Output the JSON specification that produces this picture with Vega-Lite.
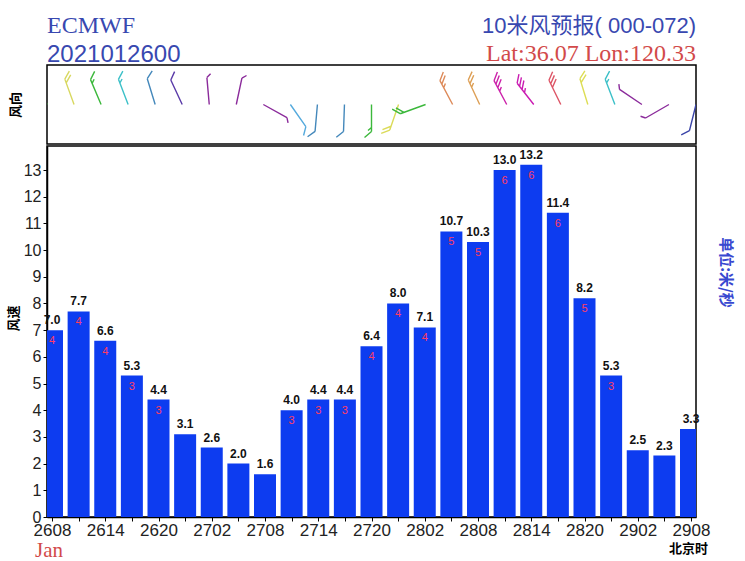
{
  "$schema": "https://vega.github.io/schema/vega-lite/v6.json",
  "padding": {"left": 6, "top": 13, "right": 5, "bottom": 0},
  "background": "white",
  "title": {
    "text": "10米风预报( 000-072)",
    "subtitle": "Lat:36.07 Lon:120.33",
    "anchor": "end",
    "frame": "group",
    "offset": -54,
    "font": "Liberation Sans, Noto Sans CJK SC",
    "fontSize": 22,
    "fontWeight": "normal",
    "color": "#3848b0",
    "subtitleFont": "Liberation Serif",
    "subtitleFontSize": 24,
    "subtitleColor": "#d24a4a",
    "subtitlePadding": 4
  },
  "datasets": {
    "wind": [
      {"t": "2021-01-26T08:00:00", "speed": 7.0, "level": 4, "dir": 340},
      {"t": "2021-01-26T11:00:00", "speed": 7.7, "level": 4, "dir": 340},
      {"t": "2021-01-26T14:00:00", "speed": 6.6, "level": 4, "dir": 337},
      {"t": "2021-01-26T17:00:00", "speed": 5.3, "level": 3, "dir": 339},
      {"t": "2021-01-26T20:00:00", "speed": 4.4, "level": 3, "dir": 343},
      {"t": "2021-01-26T23:00:00", "speed": 3.1, "level": 2, "dir": 335},
      {"t": "2021-01-27T02:00:00", "speed": 2.6, "level": 2, "dir": 355},
      {"t": "2021-01-27T05:00:00", "speed": 2.0, "level": 2, "dir": 12},
      {"t": "2021-01-27T08:00:00", "speed": 1.6, "level": 2, "dir": 119},
      {"t": "2021-01-27T11:00:00", "speed": 4.0, "level": 3, "dir": 145},
      {"t": "2021-01-27T14:00:00", "speed": 4.4, "level": 3, "dir": 185},
      {"t": "2021-01-27T17:00:00", "speed": 4.4, "level": 3, "dir": 182},
      {"t": "2021-01-27T20:00:00", "speed": 6.4, "level": 4, "dir": 180},
      {"t": "2021-01-27T23:00:00", "speed": 8.0, "level": 4, "dir": 199},
      {"t": "2021-01-28T02:00:00", "speed": 7.1, "level": 4, "dir": 250},
      {"t": "2021-01-28T05:00:00", "speed": 10.7, "level": 5, "dir": 332},
      {"t": "2021-01-28T08:00:00", "speed": 10.3, "level": 5, "dir": 335},
      {"t": "2021-01-28T11:00:00", "speed": 13.0, "level": 6, "dir": 332},
      {"t": "2021-01-28T14:00:00", "speed": 13.2, "level": 6, "dir": 322},
      {"t": "2021-01-28T17:00:00", "speed": 11.4, "level": 6, "dir": 334},
      {"t": "2021-01-28T20:00:00", "speed": 8.2, "level": 5, "dir": 343},
      {"t": "2021-01-28T23:00:00", "speed": 5.3, "level": 3, "dir": 339},
      {"t": "2021-01-29T02:00:00", "speed": 2.5, "level": 2, "dir": 304},
      {"t": "2021-01-29T05:00:00", "speed": 2.3, "level": 2, "dir": 240},
      {"t": "2021-01-29T08:00:00", "speed": 3.3, "level": 2, "dir": 194}
    ]
  },
  "spacing": 0,
  "vconcat": [
    {
      "width": 649,
      "height": 79,
      "title": {
        "text": "ECMWF",
        "subtitle": "2021012600",
        "anchor": "start",
        "frame": "group",
        "offset": -2,
        "font": "Liberation Serif",
        "fontSize": 24,
        "fontWeight": "normal",
        "color": "#3848b0",
        "subtitleFont": "Liberation Sans",
        "subtitleFontSize": 24,
        "subtitleColor": "#3848b0",
        "subtitlePadding": 5
      },
      "data": {"name": "wind"},
      "encoding": {
        "x": {
          "field": "t",
          "type": "temporal",
          "scale": {"domain": [
            {"year": 2021, "month": 1, "date": 26, "hours": 8},
            {"year": 2021, "month": 1, "date": 29, "hours": 8}
          ]},
          "axis": null
        },
        "y": {
          "datum": 0,
          "type": "quantitative",
          "scale": {"domain": [-1, 1]},
          "axis": {"title": "风向", "labels": false, "ticks": false, "domain": false, "grid": false, "titleFontSize": 13, "titlePadding": 25}
        },
        "color": {
          "field": "speed",
          "type": "quantitative",
          "legend": null,
          "scale": {
            "interpolate": "rgb",
            "domain": [1.6, 2.6, 3.1, 3.3, 4.0, 4.4, 5.3, 6.4, 7.1, 7.7, 8.2, 10.5, 11.4, 13.0],
            "range": ["#8b2b9b", "#8b2b9b", "#5a3aa8", "#3a44a8", "#55aadd", "#4488bb", "#3cc0c8", "#3cb83c", "#3cb83c", "#d8d860", "#dddd55", "#dd9955", "#dd5566", "#cc22aa"]
          }
        },
        "angle": {"field": "dir", "type": "quantitative", "scale": null}
      },
      "layer": [
        {"transform": [{"filter": "datum.speed < 3"}],
         "mark": {"type": "point", "shape": "M0,0L0,-27M0,-27l4,-3.5", "size": 4, "filled": false, "strokeWidth": 1.4, "opacity": 1, "clip": true}},
        {"transform": [{"filter": "datum.speed >= 3 && datum.speed < 5"}],
         "mark": {"type": "point", "shape": "M0,0L0,-27M0,-27l7,-6", "size": 4, "filled": false, "strokeWidth": 1.4, "opacity": 1, "clip": true}},
        {"transform": [{"filter": "datum.speed >= 5 && datum.speed < 7"}],
         "mark": {"type": "point", "shape": "M0,0L0,-27M0,-27l7,-6M0,-23l3.5,-3", "size": 4, "filled": false, "strokeWidth": 1.4, "opacity": 1, "clip": true}},
        {"transform": [{"filter": "datum.speed >= 7 && datum.speed < 9"}],
         "mark": {"type": "point", "shape": "M0,0L0,-27M0,-27l7,-6M0,-23l7,-6", "size": 4, "filled": false, "strokeWidth": 1.4, "opacity": 1, "clip": true}},
        {"transform": [{"filter": "datum.speed >= 9 && datum.speed < 11"}],
         "mark": {"type": "point", "shape": "M0,0L0,-27M0,-27l7,-6M0,-23l7,-6M0,-19l3.5,-3", "size": 4, "filled": false, "strokeWidth": 1.4, "opacity": 1, "clip": true}},
        {"transform": [{"filter": "datum.speed >= 11 && datum.speed < 13"}],
         "mark": {"type": "point", "shape": "M0,0L0,-27M0,-27l7,-6M0,-23l7,-6M0,-19l7,-6", "size": 4, "filled": false, "strokeWidth": 1.4, "opacity": 1, "clip": true}},
        {"transform": [{"filter": "datum.speed >= 13"}],
         "mark": {"type": "point", "shape": "M0,0L0,-27M0,-27l7,-6M0,-23l7,-6M0,-19l7,-6M0,-15l3.5,-3", "size": 4, "filled": false, "strokeWidth": 1.4, "opacity": 1, "clip": true}}
      ]
    },
    {
      "width": 649,
      "height": 371,
      "title": {
        "text": "Jan",
        "orient": "bottom",
        "anchor": "start",
        "frame": "group",
        "offset": -15,
        "dx": -12,
        "font": "Liberation Serif",
        "fontSize": 21,
        "fontWeight": "normal",
        "color": "#d24a4a"
      },
      "data": {"name": "wind"},
      "encoding": {
        "x": {
          "field": "t",
          "type": "temporal",
          "scale": {"domain": [
            {"year": 2021, "month": 1, "date": 26, "hours": 8},
            {"year": 2021, "month": 1, "date": 29, "hours": 8}
          ]},
          "axis": {
            "values": [
              {"year": 2021, "month": 1, "date": 26, "hours": 8},
              {"year": 2021, "month": 1, "date": 26, "hours": 11},
              {"year": 2021, "month": 1, "date": 26, "hours": 14},
              {"year": 2021, "month": 1, "date": 26, "hours": 17},
              {"year": 2021, "month": 1, "date": 26, "hours": 20},
              {"year": 2021, "month": 1, "date": 26, "hours": 23},
              {"year": 2021, "month": 1, "date": 27, "hours": 2},
              {"year": 2021, "month": 1, "date": 27, "hours": 5},
              {"year": 2021, "month": 1, "date": 27, "hours": 8},
              {"year": 2021, "month": 1, "date": 27, "hours": 11},
              {"year": 2021, "month": 1, "date": 27, "hours": 14},
              {"year": 2021, "month": 1, "date": 27, "hours": 17},
              {"year": 2021, "month": 1, "date": 27, "hours": 20},
              {"year": 2021, "month": 1, "date": 27, "hours": 23},
              {"year": 2021, "month": 1, "date": 28, "hours": 2},
              {"year": 2021, "month": 1, "date": 28, "hours": 5},
              {"year": 2021, "month": 1, "date": 28, "hours": 8},
              {"year": 2021, "month": 1, "date": 28, "hours": 11},
              {"year": 2021, "month": 1, "date": 28, "hours": 14},
              {"year": 2021, "month": 1, "date": 28, "hours": 17},
              {"year": 2021, "month": 1, "date": 28, "hours": 20},
              {"year": 2021, "month": 1, "date": 28, "hours": 23},
              {"year": 2021, "month": 1, "date": 29, "hours": 2},
              {"year": 2021, "month": 1, "date": 29, "hours": 5},
              {"year": 2021, "month": 1, "date": 29, "hours": 8}
            ],
            "labelExpr": "hours(datum.value) % 6 == 2 ? timeFormat(datum.value, '%d%H') : ''",
            "labelFlush": false,
            "labelOverlap": false,
            "labelFontSize": 17,
            "labelPadding": 1,
            "tickSize": 4,
            "domainWidth": 1.5,
            "title": "北京时",
            "titleX": 641,
            "titleAlign": "center",
            "titleFontSize": 13,
            "titlePadding": 4
          }
        }
      },
      "resolve": {"axis": {"y": "independent"}},
      "layer": [
        {
          "mark": {"type": "bar", "width": 22, "color": "#0d3cf0", "clip": true},
          "encoding": {
            "y": {
              "field": "speed",
              "type": "quantitative",
              "scale": {"domain": [0, 13.9], "nice": false},
              "axis": {
                "values": [0, 1, 2, 3, 4, 5, 6, 7, 8, 9, 10, 11, 12, 13],
                "title": "风速",
                "titleFontSize": 13,
                "titlePadding": 3,
                "titleY": 172,
                "labelFontSize": 16,
                "labelPadding": 2,
                "tickSize": 4,
                "domainWidth": 1.5
              }
            }
          }
        },
        {
          "mark": {"type": "text", "baseline": "bottom", "dy": -3, "fontSize": 12, "fontWeight": "bold", "font": "Liberation Sans", "color": "#111"},
          "encoding": {
            "y": {
              "field": "speed",
              "type": "quantitative",
              "scale": {"domain": [0, 13.9], "nice": false},
              "axis": {
                "orient": "right",
                "title": "单位:米/秒",
                "titleAngle": 90,
                "titleY": 126,
                "titleColor": "#3848d0",
                "titleFontSize": 15,
                "titlePadding": 21,
                "labels": false,
                "ticks": false,
                "domain": false,
                "grid": false
              }
            },
            "text": {"field": "speed", "type": "quantitative", "format": ".1f"}
          }
        },
        {
          "transform": [{"filter": "datum.level >= 3"}],
          "mark": {"type": "text", "baseline": "middle", "dy": 11, "fontSize": 11, "font": "Liberation Sans", "color": "#ff3c64"},
          "encoding": {
            "y": {"field": "speed", "type": "quantitative", "scale": {"domain": [0, 13.9], "nice": false}, "axis": null},
            "text": {"field": "level", "type": "quantitative"}
          }
        }
      ]
    }
  ],
  "config": {
    "view": {"stroke": "#000", "strokeWidth": 1.5},
    "axis": {
      "labelFont": "Liberation Sans",
      "labelColor": "#222",
      "tickColor": "#000",
      "domainColor": "#000",
      "grid": false,
      "titleFont": "Noto Sans CJK SC",
      "titleFontWeight": "bold",
      "titleColor": "#000"
    }
  }
}
